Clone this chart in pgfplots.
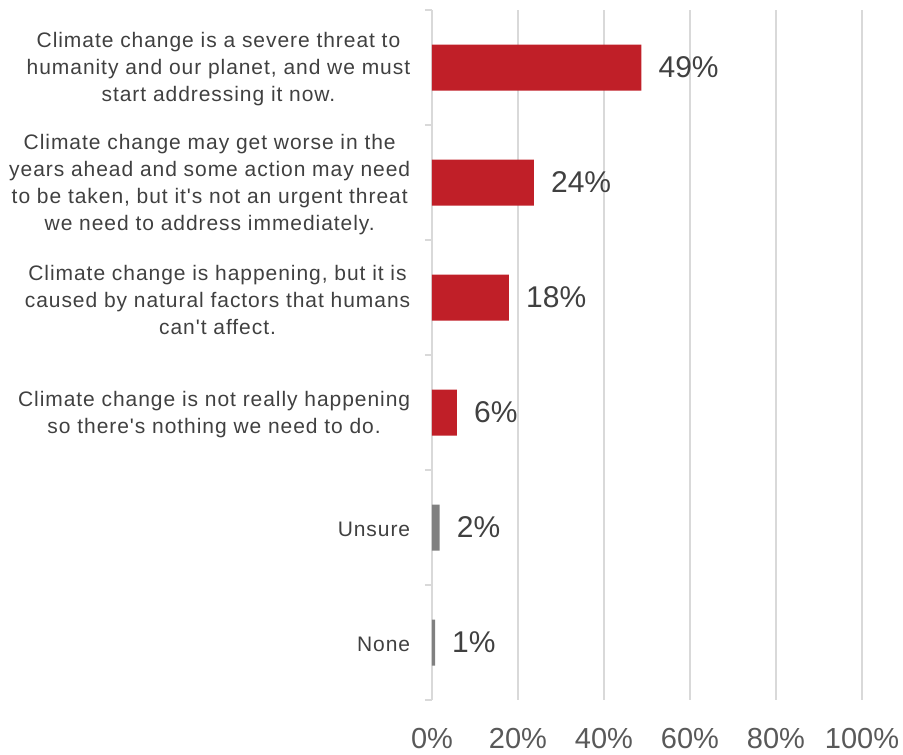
\documentclass[border=0pt]{standalone}
\usepackage{pgfplots}
\pgfplotsset{compat=1.18}
\usepackage{pgfplotstable}
\usepackage{fontspec}
\setmainfont{Liberation Sans}
\newfontfamily\catfont[LetterSpace=4.5]{Liberation Sans}
\usetikzlibrary{calc}
\definecolor{barred}{RGB}{192,31,40}
\definecolor{bargray}{RGB}{128,128,128}
\definecolor{gridgray}{RGB}{217,217,217}
\definecolor{txtdark}{RGB}{64,64,64}
\definecolor{txtmid}{RGB}{89,89,89}
\pgfplotstableread{
pos val lab
0 48.7 49
1 23.7 24
2 17.9 18
3 5.8 6
}\redtab
\pgfplotstableread{
pos val lab
4 1.8 2
5 0.7 1
}\graytab
\begin{document}
\begin{tikzpicture}
\begin{axis}[
  name=ax,
  scale only axis, width=430pt, height=690pt,
  xmin=0, xmax=100, ymin=-0.5, ymax=5.5, y dir=reverse,
  axis y line*=left, axis x line*=bottom,
  x axis line style={draw=none},
  y axis line style={draw=gridgray, line width=1.2pt},
  xmajorgrids, grid style={draw=gridgray, line width=1.3pt},
  xtick={0,20,40,60,80,100},
  xticklabels={0\%,20\%,40\%,60\%,80\%,100\%},
  xtick style={draw=none},
  xticklabel style={font=\fontsize{29}{32}\selectfont, text=txtmid, yshift=-25pt},
  ytick={0,1,2,3,4,5},
  yticklabels={
    {Climate change is a severe threat to\\humanity and our planet, and we must\\start addressing it now.},
    {Climate change may get worse in the\\years ahead and some action may need\\to be taken, but it's not an urgent threat\\we need to address immediately.},
    {Climate change is happening, but it is\\caused by natural factors that humans\\can't affect.},
    {Climate change is not really happening\\so there's nothing we need to do.},
    {Unsure},
    {None}},
  ytick style={draw=none},
  yticklabel style={font=\catfont\fontsize{21}{27}\selectfont, text=txtdark, align=center, anchor=east, xshift=-14pt, yshift=-2pt},
  extra y ticks={-0.5,0.5,1.5,2.5,3.5,4.5,5.5},
  extra y tick labels={},
  extra y tick style={major tick length=7pt, tick align=outside, ytick style={draw=gridgray, line width=1.2pt}},
  xbar, bar width=46pt,
  point meta=explicit symbolic,
  nodes near coords={\pgfplotspointmeta\%},
  nodes near coords style={font=\fontsize{30}{34}\selectfont, text=txtdark, anchor=west, inner sep=0pt, xshift=17pt},
]
\addplot[fill=barred, draw=none, bar shift=0pt] table[x=val, y=pos, meta=lab] {\redtab};
\addplot[fill=bargray, draw=none, bar shift=0pt] table[x=val, y=pos, meta=lab] {\graytab};
\end{axis}
\pgfresetboundingbox
\path[use as bounding box] ($(ax.south west)+(-432pt,-55pt)$) rectangle ($(ax.south west)+(471pt,700pt)$);
\end{tikzpicture}
\end{document}
